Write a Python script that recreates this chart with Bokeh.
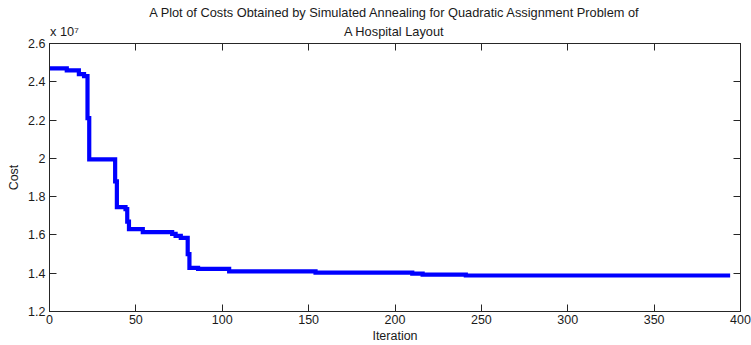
import math
from bokeh.plotting import figure
from bokeh.models import LinearAxis, FixedTicker, Range1d, CustomJSTickFormatter, Title
from bokeh.embed import file_html
from bokeh.resources import INLINE

# ---- data ----
iterations = [0, 10, 17, 20, 22, 23, 38, 39, 44, 45, 46, 54, 71, 73, 76, 80, 81,
              86, 104, 154, 210, 216, 241, 394]
cost_x1e7 = [2.47, 2.46, 2.44, 2.43, 2.21, 1.995, 1.88, 1.745, 1.735, 1.67, 1.63,
             1.615, 1.605, 1.595, 1.585, 1.50, 1.428, 1.423, 1.41, 1.403, 1.398,
             1.393, 1.388, 1.388]
x_ticks = [0, 50, 100, 150, 200, 250, 300, 350, 400]
y_ticks = [1.2, 1.4, 1.6, 1.8, 2.0, 2.2, 2.4, 2.6]
y_tick_labels = ["1.2", "1.4", "1.6", "1.8", "2", "2.2", "2.4", "2.6"]
title_lines = ["A Plot of Costs Obtained by Simulated Annealing for Quadratic Assignment Problem of",
               "A Hospital Layout"]
x_label = "Iteration"
y_label = "Cost"
exponent_label = "x 10\u2077"

FONT = "Liberation Sans"
TXT = "#1a1a1a"
AX = "#262626"

p = figure(width=751, height=345, output_backend="svg", toolbar_location=None,
           x_range=Range1d(0, 400), y_range=Range1d(1.2, 2.6),
           x_axis_type=None, y_axis_type=None,
           min_border_left=49, min_border_right=11, min_border_top=43, min_border_bottom=33,
           background_fill_color="white", border_fill_color="white")
p.outline_line_color = AX
p.grid.visible = False

def style_axis(ax, show_labels, standoff):
    ax.axis_line_color = AX
    ax.major_tick_line_color = AX
    ax.major_tick_in = 7
    ax.major_tick_out = 0
    ax.minor_tick_line_color = None
    ax.major_label_standoff = standoff
    ax.major_label_text_font = FONT
    ax.major_label_text_font_size = "12.5px"
    ax.major_label_text_color = TXT
    ax.axis_label_text_font = FONT
    ax.axis_label_text_font_size = "12.5px"
    ax.axis_label_text_font_style = "normal"
    ax.axis_label_text_color = TXT
    if not show_labels:
        ax.formatter = CustomJSTickFormatter(code="return '';")
        ax.major_label_text_font_size = "0px"

xb = LinearAxis(ticker=FixedTicker(ticks=x_ticks), axis_label=x_label, axis_label_standoff=2)
style_axis(xb, True, 3)
p.add_layout(xb, "below")
yl = LinearAxis(ticker=FixedTicker(ticks=y_ticks), axis_label=y_label, axis_label_standoff=4)
style_axis(yl, True, 4)
yl.major_label_overrides = {t: s for t, s in zip(y_ticks, y_tick_labels)}
p.add_layout(yl, "left")

# top axis: only the inward tick marks
xt = LinearAxis(ticker=FixedTicker(ticks=x_ticks))
style_axis(xt, False, 0)
p.add_layout(xt, "above")
yr = LinearAxis(ticker=FixedTicker(ticks=y_ticks))
style_axis(yr, False, 0)
p.add_layout(yr, "right")

# band above the frame holding the "x 10^7" exponent (left) and the 2nd title line (centre)
EXP_POS = 8.6
LINE2_POS = 199.5
xa = LinearAxis(ticker=FixedTicker(ticks=[EXP_POS, LINE2_POS]))
style_axis(xa, True, 5)
xa.axis_line_color = None
xa.major_tick_line_color = None
xa.major_tick_in = 0
xa.major_label_text_font_size = "12.8px"
xa.major_label_overrides = {EXP_POS: exponent_label, LINE2_POS: title_lines[1]}
p.add_layout(xa, "above")

p.add_layout(Title(text=title_lines[0], align="center", standoff=2, text_font=FONT,
                   text_font_size="12.8px", text_font_style="normal", text_color=TXT), "above")

p.step(iterations, cost_x1e7, mode="after", line_color="#0000ff", line_width=4.2,
       line_join="miter")

open("out.html", "w").write(file_html(p, INLINE))
